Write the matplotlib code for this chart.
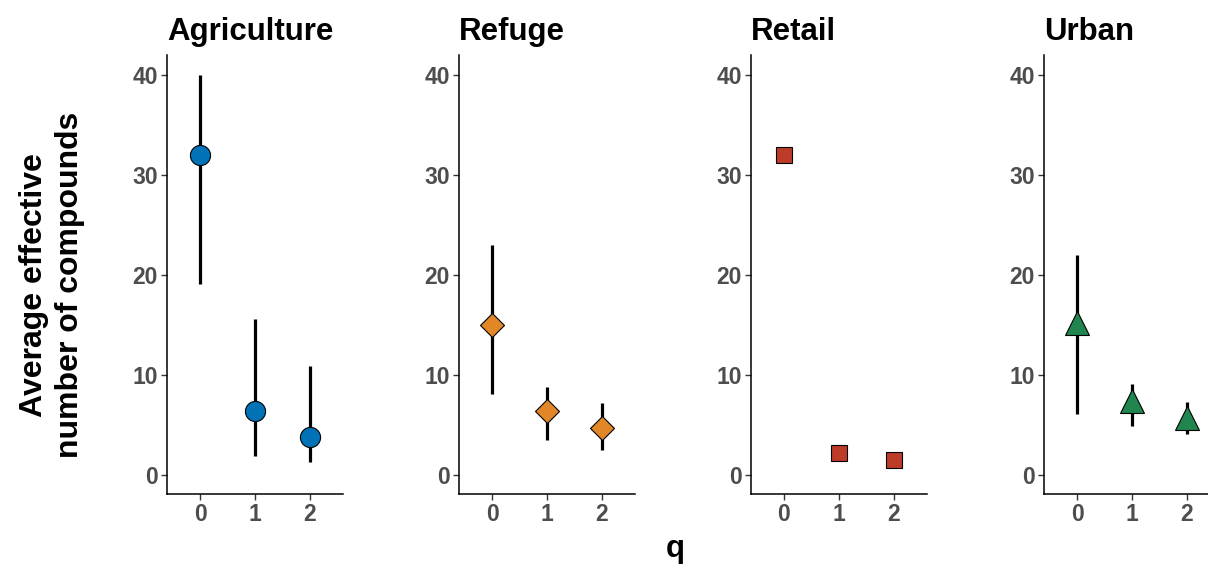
import matplotlib
matplotlib.use("Agg")
import matplotlib.pyplot as plt
from matplotlib import font_manager as fm
import os

bold_path = None
for f in fm.findSystemFonts():
    if os.path.basename(f) == "LiberationSans-Bold.ttf":
        bold_path = f
        break

def fp(size):
    if bold_path:
        return fm.FontProperties(fname=bold_path, size=size)
    return fm.FontProperties(family="DejaVu Sans", weight="bold", size=size)

panels = ["Agriculture", "Refuge", "Retail", "Urban"]
q_levels = ["0", "1", "2"]
means = {
    "Agriculture": [32.0, 6.4, 3.8],
    "Refuge": [15.0, 6.4, 4.7],
    "Retail": [32.0, 2.2, 1.45],
    "Urban": [15.2, 7.4, 5.7],
}
lower = {
    "Agriculture": [19.1, 1.9, 1.3],
    "Refuge": [8.1, 3.5, 2.45],
    "Retail": [None, None, None],
    "Urban": [6.1, 4.9, 4.1],
}
upper = {
    "Agriculture": [40.0, 15.6, 10.9],
    "Refuge": [23.0, 8.8, 7.2],
    "Retail": [None, None, None],
    "Urban": [22.0, 9.1, 7.3],
}
colors = {"Agriculture": "#0072B5", "Refuge": "#E18727", "Retail": "#BC3C29", "Urban": "#20854E"}
markers = {"Agriculture": "o", "Refuge": "D", "Retail": "s", "Urban": "^"}
msizes = {"Agriculture": 14.5, "Refuge": 12.5, "Retail": 12, "Urban": 17}
yticks = [0, 10, 20, 30, 40]

W, H = 1208, 569
fig = plt.figure(figsize=(W / 100, H / 100), dpi=100)

lefts = [167, 459, 751, 1044]
ax_w = 176
top_px, bot_px = 55, 494
tick_col = "#4D4D4D"

for i, name in enumerate(panels):
    ax = fig.add_axes([lefts[i] / W, 1 - bot_px / H, ax_w / W, (bot_px - top_px) / H])
    xs = list(range(len(q_levels)))
    for x, lo, hi in zip(xs, lower[name], upper[name]):
        if lo is not None:
            ax.plot([x, x], [lo, hi], color="black", lw=2.3, solid_capstyle="butt", zorder=2)
    ax.plot(xs, means[name], linestyle="none", marker=markers[name], ms=msizes[name],
            mfc=colors[name], mec="black", mew=0.8, zorder=3)
    ax.set_xlim(-0.6, 2.6)
    ax.set_ylim(-1.9, 41.95)
    ax.set_xticks(xs)
    ax.set_xticklabels(q_levels)
    ax.set_yticks(yticks)
    ax.set_yticklabels([str(v) for v in yticks])
    for s in ["top", "right"]:
        ax.spines[s].set_visible(False)
    for s in ["left", "bottom"]:
        ax.spines[s].set_linewidth(1.1)
        ax.spines[s].set_color("black")
    ax.tick_params(axis="both", length=4, width=1.0, color="#333333", labelcolor=tick_col, pad=2.5)
    for lab in ax.get_xticklabels() + ax.get_yticklabels():
        lab.set_fontproperties(fp(16.5))
    ax.set_title(name, loc="left", fontproperties=fp(22.5), pad=11)

fig.text(675 / W, 1 - 557 / H, "q", ha="center", va="baseline", fontproperties=fp(22.5))
fig.text(52 / W, 1 - 285 / H, "Average effective\nnumber of compounds", ha="center", va="center",
         rotation=90, fontproperties=fp(23), linespacing=1.3)

fig.savefig("out.png", dpi=100)
